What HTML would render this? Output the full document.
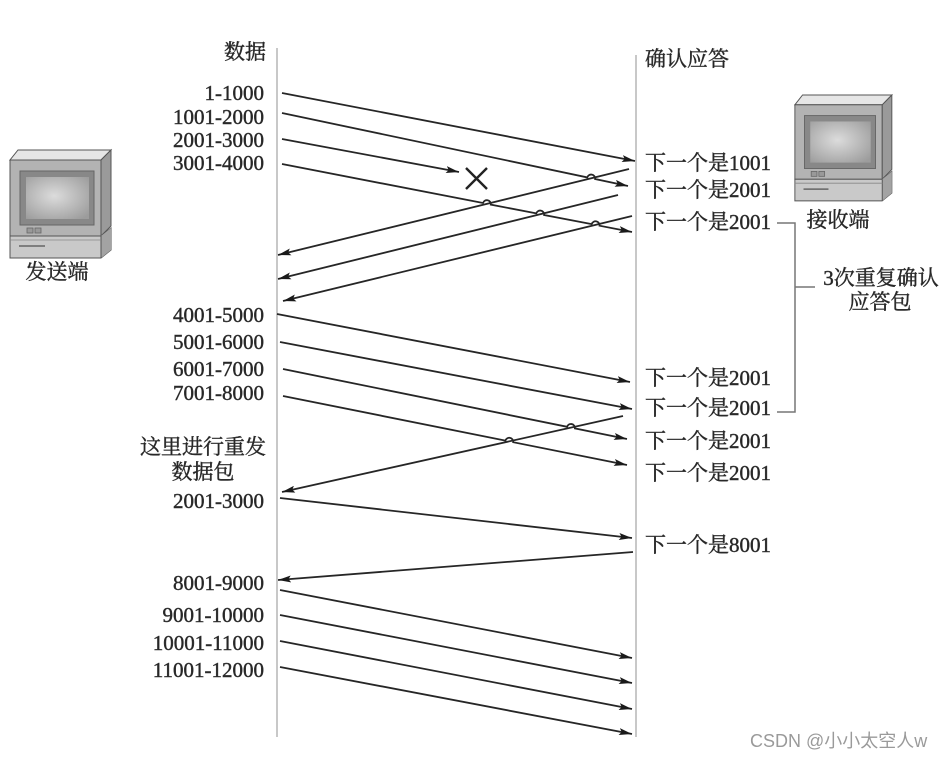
<!DOCTYPE html>
<html>
<head>
<meta charset="utf-8">
<style>
html,body{margin:0;padding:0;background:#fff;}
body{width:950px;height:760px;overflow:hidden;}
svg{display:block;}
.t{font-family:"Liberation Serif","Noto Serif CJK SC",serif;font-size:21px;fill:#262626;stroke:#333;stroke-width:0.45;dominant-baseline:central;}
.ln{stroke:#262626;stroke-width:1.8;fill:none;}
</style>
</head>
<body>
<svg width="950" height="760" viewBox="0 0 950 760" xmlns="http://www.w3.org/2000/svg">
<defs>
<marker id="ah" viewBox="0 0 13 7" refX="13" refY="3.5" markerWidth="13" markerHeight="7" markerUnits="userSpaceOnUse" orient="auto">
<path d="M0,0 L13,3.5 L0,7 L2.5,3.5 z" fill="#1a1a1a"/>
</marker>
<radialGradient id="scr" cx="0.45" cy="0.45" r="0.7">
<stop offset="0" stop-color="#dcdcdc"/>
<stop offset="1" stop-color="#9c9c9c"/>
</radialGradient>
<g id="pc">
<polygon points="11,0 104,0 94,10 3,10" fill="#e6e6e6" stroke="#555" stroke-width="1"/>
<rect x="3" y="10" width="91" height="76" fill="#b3b3b3" stroke="#555" stroke-width="1"/>
<polygon points="94,10 104,0 104,76 94,86" fill="#9a9a9a" stroke="#555" stroke-width="1"/>
<rect x="13" y="21" width="74" height="54" fill="#888" stroke="#666" stroke-width="1"/>
<rect x="19" y="27" width="63" height="42" fill="url(#scr)"/>
<rect x="20" y="78" width="6" height="5" fill="#999" stroke="#666" stroke-width="0.8"/>
<rect x="28" y="78" width="6" height="5" fill="#999" stroke="#666" stroke-width="0.8"/>
<polygon points="3,86 94,86 104,78 104,100 94,108 3,108" fill="#c9c9c9" stroke="#555" stroke-width="1"/>
<polygon points="94,86 104,78 104,100 94,108" fill="#a3a3a3"/>
<line x1="94" y1="86" x2="94" y2="108" stroke="#555" stroke-width="1"/>
<line x1="3" y1="90" x2="94" y2="90" stroke="#888" stroke-width="0.8"/>
<line x1="12" y1="96" x2="38" y2="96" stroke="#666" stroke-width="1.5"/>
</g>
</defs>

<!-- vertical timelines -->
<line x1="277" y1="48" x2="277" y2="737" stroke="#c8c8c8" stroke-width="2"/>
<line x1="636" y1="55" x2="636" y2="737" stroke="#c8c8c8" stroke-width="2"/>

<!-- computers -->
<use href="#pc" transform="translate(7,150)"/>
<use href="#pc" transform="translate(792,95) scale(0.96,0.98)"/>
<text class="t" x="57" y="272" text-anchor="middle">发送端</text>
<text class="t" x="838" y="220" text-anchor="middle">接收端</text>

<!-- headers -->
<text class="t" x="266" y="52" text-anchor="end">数据</text>
<text class="t" x="645" y="59">确认应答</text>

<!-- left labels -->
<g text-anchor="end">
<text class="t" x="264" y="93">1-1000</text>
<text class="t" x="264" y="117">1001-2000</text>
<text class="t" x="264" y="140">2001-3000</text>
<text class="t" x="264" y="163">3001-4000</text>
<text class="t" x="264" y="315">4001-5000</text>
<text class="t" x="264" y="342">5001-6000</text>
<text class="t" x="264" y="369">6001-7000</text>
<text class="t" x="264" y="393">7001-8000</text>
<text class="t" x="264" y="501">2001-3000</text>
<text class="t" x="264" y="583">8001-9000</text>
<text class="t" x="264" y="615">9001-10000</text>
<text class="t" x="264" y="643">10001-11000</text>
<text class="t" x="264" y="670">11001-12000</text>
</g>
<text class="t" x="203" y="447" text-anchor="middle">这里进行重发</text>
<text class="t" x="203" y="472" text-anchor="middle">数据包</text>

<!-- right labels -->
<text class="t" x="645" y="163">下一个是1001</text>
<text class="t" x="645" y="190">下一个是2001</text>
<text class="t" x="645" y="222">下一个是2001</text>
<text class="t" x="645" y="378">下一个是2001</text>
<text class="t" x="645" y="408">下一个是2001</text>
<text class="t" x="645" y="441">下一个是2001</text>
<text class="t" x="645" y="473">下一个是2001</text>
<text class="t" x="645" y="545">下一个是8001</text>

<!-- bracket -->
<path d="M777,223 L795,223 L795,412 L777,412 M795,287 L815,287" stroke="#777" stroke-width="1.5" fill="none"/>
<text class="t" x="881" y="278" text-anchor="middle">3次重复确认</text>
<text class="t" x="880" y="302" text-anchor="middle">应答包</text>

<!-- top group data -->
<path class="ln" marker-end="url(#ah)" d="M282,93 L635,161"/>
<path class="ln" marker-end="url(#ah)" d="M282,113 L587.3,177.4 A4,4 0 0 1 595.1,179.0 L628,186"/>
<path class="ln" marker-end="url(#ah)" d="M282,139 L459,172"/>
<path class="ln" marker-end="url(#ah)" d="M282,164 L483.0,203.0 A4,4 0 0 1 490.8,204.6 L536.3,213.4 A4,4 0 0 1 544.1,215.0 L591.7,224.1 A4,4 0 0 1 599.5,225.7 L632,232"/>
<!-- X -->
<path d="M466,168 L487,189 M487,168 L466,189" stroke="#222" stroke-width="2.4" fill="none"/>
<!-- acks -->
<path class="ln" marker-end="url(#ah)" d="M629,169 L278,255"/>
<path class="ln" marker-end="url(#ah)" d="M618,195 L278,279"/>
<path class="ln" marker-end="url(#ah)" d="M632,216 L283,301"/>

<!-- middle group -->
<path class="ln" marker-end="url(#ah)" d="M277,314 L630,382"/>
<path class="ln" marker-end="url(#ah)" d="M280,342 L632,409"/>
<path class="ln" marker-end="url(#ah)" d="M283,369 L567.1,426.8 A4,4 0 0 1 574.9,428.4 L627,439"/>
<path class="ln" marker-end="url(#ah)" d="M283,396 L505.4,440.6 A4,4 0 0 1 513.2,442.2 L627,465"/>
<path class="ln" marker-end="url(#ah)" d="M623,416 L282,492"/>

<!-- bottom group -->
<path class="ln" marker-end="url(#ah)" d="M280,498 L632,538"/>
<path class="ln" marker-end="url(#ah)" d="M633,552 L278,580"/>
<path class="ln" marker-end="url(#ah)" d="M280,590 L632,658"/>
<path class="ln" marker-end="url(#ah)" d="M280,615 L632,683"/>
<path class="ln" marker-end="url(#ah)" d="M280,641 L632,709"/>
<path class="ln" marker-end="url(#ah)" d="M280,667 L632,734"/>

<!-- watermark -->
<text x="750" y="741" style="font-family:'Liberation Sans','Noto Sans CJK SC',sans-serif;font-size:18px;fill:#9a9a9a;dominant-baseline:central;">CSDN @小小太空人w</text>
</svg>
</body>
</html>
